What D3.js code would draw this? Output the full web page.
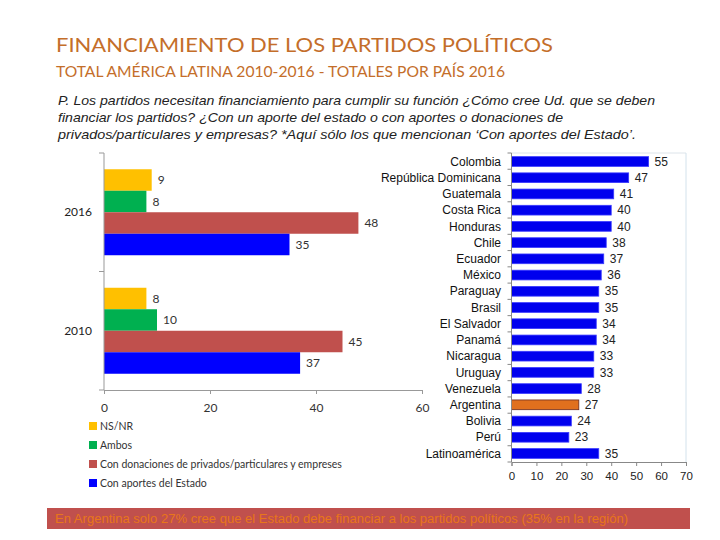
<!DOCTYPE html>
<html><head><meta charset="utf-8">
<script src="https://cdn.jsdelivr.net/npm/d3@7"></script>
<style>
html,body{margin:0;padding:0;background:#fff;}
svg{display:block;}
</style></head>
<body>
<svg id="chart" width="720" height="540"></svg>
<script>
// ---- data ----
const years = ["2016", "2010"];
const seriesNames = ["NS/NR", "Ambos", "Con donaciones de privados/particulares y empreses", "Con aportes del Estado"];
const nsnrValues = [9, 8];
const ambosValues = [8, 10];
const privadosValues = [48, 45];
const estadoValues = [35, 37];
const leftTicks = [0, 20, 40, 60];

const countries = ["Colombia", "República Dominicana", "Guatemala", "Costa Rica", "Honduras", "Chile", "Ecuador", "México", "Paraguay", "Brasil", "El Salvador", "Panamá", "Nicaragua", "Uruguay", "Venezuela", "Argentina", "Bolivia", "Perú", "Latinoamérica"];
const countryValues = [55, 47, 41, 40, 40, 38, 37, 36, 35, 35, 34, 34, 33, 33, 28, 27, 24, 23, 35];
const rightTicks = [0, 10, 20, 30, 40, 50, 60, 70];

const seriesColors = ["#FFC000", "#00B050", "#C0504D", "#0000FF"];

const svg = d3.select("#chart");
const calibri = "Lato, 'Open Sans', sans-serif";
const arial = "'Liberation Sans', Arial, sans-serif";

// ---- titles ----
svg.append("text").attr("x", 56).attr("y", 52)
  .attr("font-family", calibri).attr("font-size", 20).attr("fill", "#C46E2A")
  .attr("textLength", 497).attr("lengthAdjust", "spacingAndGlyphs")
  .text("FINANCIAMIENTO DE LOS PARTIDOS POLÍTICOS");
svg.append("text").attr("x", 56).attr("y", 77)
  .attr("font-family", calibri).attr("font-size", 15).attr("fill", "#C46E2A")
  .attr("textLength", 449).attr("lengthAdjust", "spacingAndGlyphs")
  .text("TOTAL AMÉRICA LATINA 2010-2016 - TOTALES POR PAÍS 2016");

const qLines = [
  ["P. Los partidos necesitan financiamiento para cumplir su función ¿Cómo cree Ud. que se deben", 597],
  ["financiar los partidos? ¿Con un aporte del estado o con aportes o donaciones de", 505],
  ["privados/particulares y empresas? *Aquí sólo los que mencionan ‘Con aportes del Estado’.", 578]
];
qLines.forEach((l, i) => {
  svg.append("text").attr("x", 58).attr("y", 105 + i * 17)
    .attr("font-family", arial).attr("font-style", "italic").attr("font-size", 13).attr("fill", "#222")
    .attr("textLength", l[1]).attr("lengthAdjust", "spacingAndGlyphs")
    .text(l[0]);
});

// ---- left chart ----
const lx = d3.scaleLinear().domain([0, 60]).range([104, 422]);
const ly = d3.scaleBand().domain(years).range([153, 390]).padding(0);
const ls = d3.scaleBand().domain(seriesNames).range([0, ly.bandwidth()]).paddingInner(0).paddingOuter(0.756);
const seriesValues = [nsnrValues, ambosValues, privadosValues, estadoValues];

const left = svg.append("g");
years.forEach((yr, yi) => {
  seriesNames.forEach((s, si) => {
    const v = seriesValues[si][yi];
    left.append("rect")
      .attr("x", lx(0)).attr("y", ly(yr) + ls(s))
      .attr("width", lx(v) - lx(0)).attr("height", ls.bandwidth())
      .attr("fill", seriesColors[si]);
    left.append("text")
      .attr("x", lx(v) + 6).attr("y", ly(yr) + ls(s) + ls.bandwidth() / 2)
      .attr("dy", "0.35em").attr("font-family", calibri).attr("font-size", 12).attr("fill", "#333")
      .text(v);
  });
  left.append("text").attr("x", 92).attr("y", ly(yr) + ly.bandwidth() / 2)
    .attr("dy", "0.35em").attr("text-anchor", "end")
    .attr("font-family", calibri).attr("font-size", 12).attr("fill", "#222").text(yr);
});
// left axes
left.append("line").attr("x1", lx(0)).attr("x2", lx(0)).attr("y1", 153).attr("y2", 390)
  .attr("stroke", "#999");
[153, ly("2010"), 390].forEach(y => {
  left.append("line").attr("x1", lx(0) - 5).attr("x2", lx(0)).attr("y1", y).attr("y2", y).attr("stroke", "#999");
});
const lAxis = left.append("g").attr("transform", "translate(0,390)")
  .call(d3.axisBottom(lx).tickValues(leftTicks).tickSize(4).tickPadding(9));
lAxis.select(".domain").attr("stroke", "#999");
lAxis.selectAll(".tick line").attr("stroke", "#999");
lAxis.selectAll("text").attr("font-family", calibri).attr("font-size", 12).attr("fill", "#333");

// legend
const legend = svg.append("g");
seriesNames.forEach((s, i) => {
  const y = 426 + i * 19;
  legend.append("rect").attr("x", 89).attr("y", y - 4).attr("width", 8).attr("height", 8).attr("fill", seriesColors[i]);
  legend.append("text").attr("x", 100).attr("y", y).attr("dy", "0.35em")
    .attr("font-family", calibri).attr("font-size", 10.5).attr("fill", "#333").text(s);
});

// ---- right chart ----
const rx = d3.scaleLinear().domain([0, 70]).range([511.5, 686]);
const ry = d3.scaleBand().domain(countries).range([153, 462]).paddingInner(0.4).paddingOuter(0.225);
const right = svg.append("g");
// plot border
right.append("line").attr("x1", rx(0)).attr("x2", rx(70)).attr("y1", 153).attr("y2", 153).attr("stroke", "#dde4ea");
right.append("line").attr("x1", rx(70)).attr("x2", rx(70)).attr("y1", 153).attr("y2", 462).attr("stroke", "#d3e2ec");

countries.forEach((c, i) => {
  const v = countryValues[i];
  const isArg = c === "Argentina";
  right.append("rect")
    .attr("x", rx(0)).attr("y", ry(c))
    .attr("width", rx(v) - rx(0)).attr("height", ry.bandwidth())
    .attr("fill", isArg ? "#E0701E" : "#0000EE")
    .attr("stroke", isArg ? "#6a2a20" : "#3a3aff").attr("stroke-width", 0.8);
  right.append("text").attr("x", rx(v) + 6).attr("y", ry(c) + ry.bandwidth() / 2)
    .attr("dy", "0.35em").attr("font-family", arial).attr("font-size", 12).attr("fill", "#222").text(v);
  right.append("text").attr("x", 501).attr("y", ry(c) + ry.bandwidth() / 2)
    .attr("dy", "0.35em").attr("text-anchor", "end")
    .attr("font-family", arial).attr("font-size", 12).attr("fill", "#111").text(c);
});
// left axis of right chart
right.append("line").attr("x1", rx(0)).attr("x2", rx(0)).attr("y1", 153).attr("y2", 462).attr("stroke", "#888");
for (let i = 0; i <= countries.length; i++) {
  const y = 153 + i * (309 / countries.length);
  right.append("line").attr("x1", rx(0) - 4).attr("x2", rx(0)).attr("y1", y).attr("y2", y).attr("stroke", "#888");
}
const rAxis = right.append("g").attr("transform", "translate(0,462)")
  .call(d3.axisBottom(rx).tickValues(rightTicks).tickSize(4).tickPadding(6));
rAxis.select(".domain").attr("stroke", "#888");
rAxis.selectAll(".tick line").attr("stroke", "#888");
rAxis.selectAll("text").attr("font-family", arial).attr("font-size", 11.5).attr("fill", "#222");

// ---- banner ----
svg.append("rect").attr("x", 47).attr("y", 508).attr("width", 643).attr("height", 21).attr("fill", "#C0504D");
svg.append("text").attr("x", 55).attr("y", 523)
  .attr("font-family", arial).attr("font-size", 12).attr("fill", "#E8761A")
  .attr("textLength", 573).attr("lengthAdjust", "spacingAndGlyphs")
  .text("En Argentina solo 27% cree que el Estado debe financiar a los partidos políticos (35% en la región)");
</script>
</body></html>
